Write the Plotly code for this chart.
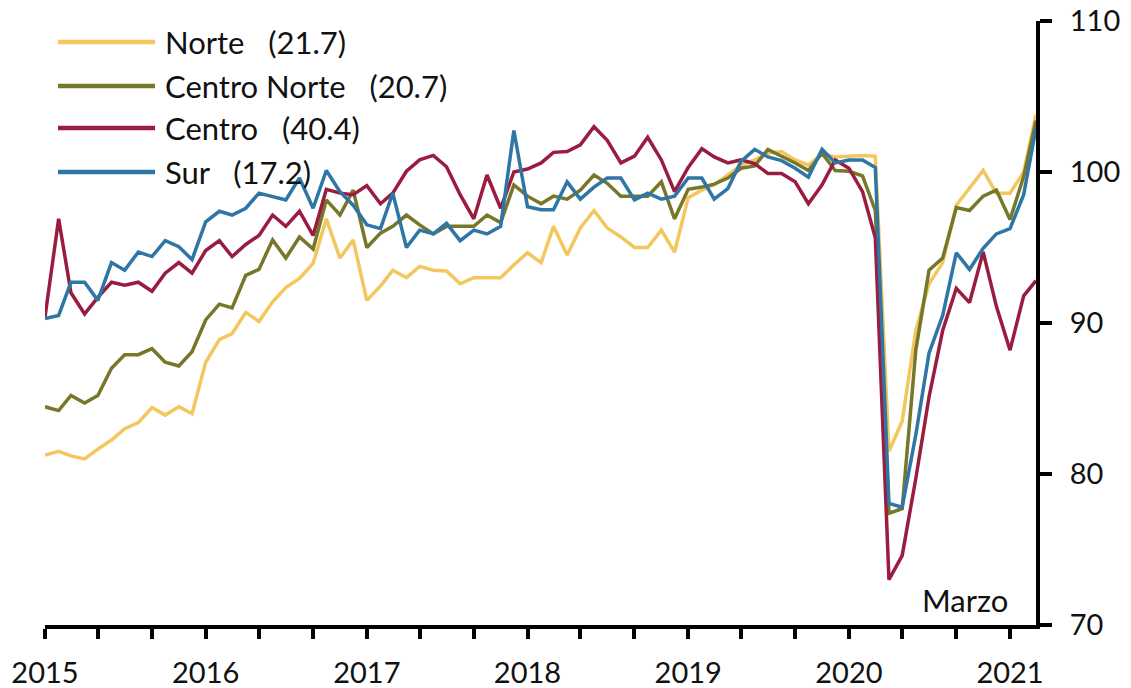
import pandas as pd
import plotly.graph_objects as go

# Monthly index, Jan 2015 - Mar 2021
months = pd.date_range("2015-01-01", periods=75, freq="MS")

norte = [81.25, 81.5, 81.2, 81.0, 81.65, 82.25, 83.0, 83.4, 84.4, 83.9, 84.45, 84.0,
         87.4, 88.9, 89.3, 90.7, 90.1, 91.4, 92.35, 92.95, 93.95, 96.9, 94.3, 95.5,
         91.5, 92.45, 93.5, 93.0, 93.75, 93.5, 93.45, 92.6, 93.0, 93.0, 93.0, 93.85,
         94.65, 94.0, 96.4, 94.5, 96.3, 97.45, 96.3, 95.7, 95.0, 95.0, 96.15, 94.7,
         98.3, 98.8, 99.15, 99.8, 100.45, 100.8, 101.25, 101.35, 100.8, 100.45, 101.2, 101.0,
         101.05, 101.1, 101.05, 81.5, 83.5, 89.5, 92.6, 94.0, 97.8, 98.9, 100.1, 98.6,
         98.6, 100.0, 103.8]

centro_norte = [84.45, 84.2, 85.2, 84.7, 85.2, 87.0, 87.9, 87.9, 88.3, 87.4, 87.15, 88.1,
                90.2, 91.25, 91.0, 93.15, 93.55, 95.5, 94.3, 95.7, 94.9, 98.15, 97.15, 98.8,
                95.0, 95.95, 96.4, 97.15, 96.5, 95.9, 96.4, 96.4, 96.4, 97.15, 96.65, 99.15,
                98.4, 97.9, 98.4, 98.2, 98.8, 99.8, 99.25, 98.4, 98.4, 98.4, 99.35, 96.9,
                98.85, 99.0, 99.2, 99.6, 100.25, 100.4, 101.5, 101.05, 100.6, 100.1, 101.25, 100.1,
                100.05, 99.75, 97.45, 77.4, 77.7, 88.2, 93.5, 94.3, 97.65, 97.45, 98.4, 98.8,
                96.85, 99.7, 103.4]

centro = [90.4, 96.9, 92.0, 90.6, 91.7, 92.7, 92.5, 92.7, 92.1, 93.3, 94.0, 93.3,
          94.8, 95.45, 94.4, 95.2, 95.8, 97.15, 96.4, 97.4, 95.8, 98.85, 98.6, 98.5,
          99.1, 97.9, 98.6, 100.05, 100.8, 101.1, 100.35, 98.5, 96.9, 99.8, 97.6, 100.0,
          100.2, 100.6, 101.3, 101.35, 101.8, 103.0, 102.1, 100.6, 101.05, 102.3, 100.8, 98.7,
          100.3, 101.55, 101.0, 100.6, 100.8, 100.55, 99.9, 99.9, 99.35, 97.9, 99.15, 100.8,
          100.25, 98.7, 95.65, 73.0, 74.6, 79.7, 85.1, 89.5, 92.3, 91.35, 94.7, 91.1,
          88.2, 91.8, 92.8]

sur = [90.3, 90.5, 92.7, 92.7, 91.5, 94.0, 93.5, 94.7, 94.4, 95.45, 95.05, 94.2,
       96.7, 97.4, 97.15, 97.6, 98.6, 98.4, 98.15, 99.6, 97.6, 100.1, 98.7, 97.8,
       96.5, 96.25, 98.6, 95.0, 96.15, 95.9, 96.6, 95.45, 96.15, 95.9, 96.4, 102.75,
       97.7, 97.5, 97.5, 99.35, 98.2, 99.0, 99.6, 99.6, 98.15, 98.6, 98.2, 98.4,
       99.6, 99.6, 98.2, 98.9, 100.7, 101.5, 101.0, 100.75, 100.25, 99.65, 101.5, 100.6,
       100.8, 100.8, 100.3, 78.05, 77.8, 82.6, 88.0, 90.5, 94.65, 93.55, 94.95, 95.9,
       96.25, 98.5, 102.9]

series_names = ["Norte", "Centro Norte", "Centro", "Sur"]
series_weights = ["21.7", "20.7", "40.4", "17.2"]
series_values = [norte, centro_norte, centro, sur]
colors = ["#F3C75E", "#77772A", "#9A1C41", "#2F76A6"]

tick_dates = pd.date_range("2015-01-01", "2021-01-01", freq="4MS")
tick_text = [str(d.year) if d.month == 1 else "" for d in tick_dates]
y_ticks = [70, 80, 90, 100, 110]

FONT = "Lato"
FS_TICK = 29
FS_TEXT = 31

fig = go.Figure()
for name, vals, col in zip(series_names, series_values, colors):
    fig.add_trace(go.Scatter(x=months, y=vals, mode="lines", name=name,
                             line=dict(color=col, width=3.5), showlegend=False))

# custom legend (line samples + labels)
leg_y = [0.9652, 0.8924, 0.8228, 0.75]
for name, w, col, yy in zip(series_names, series_weights, colors, leg_y):
    fig.add_shape(type="line", xref="paper", yref="paper", x0=0.0131, x1=0.111,
                  y0=yy, y1=yy, line=dict(color=col, width=4.5))
    fig.add_annotation(xref="paper", yref="paper", x=0.119, y=yy, xanchor="left",
                       yanchor="middle", showarrow=False,
                       text=f"{name}\u00a0\u00a0\u00a0({w})",
                       font=dict(family=FONT, size=FS_TEXT, color="#111111"))

fig.add_annotation(xref="paper", yref="paper", x=0.9738, y=0.0414, xanchor="right",
                   yanchor="middle", showarrow=False, text="Marzo",
                   font=dict(family=FONT, size=FS_TEXT, color="#111111"))

fig.update_layout(
    width=1131, height=688,
    margin=dict(l=45, r=95, t=21, b=63),
    paper_bgcolor="white", plot_bgcolor="white",
    font=dict(family=FONT, size=FS_TICK, color="#111111"),
    xaxis=dict(range=[months[0], months[-1]], tickvals=tick_dates, ticktext=tick_text,
               showgrid=False, zeroline=False, showline=True, linecolor="black",
               linewidth=4, ticks="outside", ticklen=10, tickwidth=4, tickcolor="black",
               ticklabelstandoff=9, automargin=False, ticklabeloverflow="allow",
               tickfont=dict(family=FONT, size=FS_TICK, color="#111111")),
    yaxis=dict(range=[70, 110], tickvals=y_ticks, side="right",
               showgrid=False, zeroline=False, showline=True, linecolor="black",
               linewidth=4, ticks="outside", ticklen=12, tickwidth=4, tickcolor="black",
               ticklabelstandoff=12, automargin=False, ticklabeloverflow="allow",
               tickfont=dict(family=FONT, size=FS_TICK, color="#111111")),
)

# remove the browser's default page margin so the figure fills the window exactly
fig.write_html("out.html", config={"displayModeBar": False},
               post_script="document.body.style.margin='0';document.body.style.overflow='hidden';")
